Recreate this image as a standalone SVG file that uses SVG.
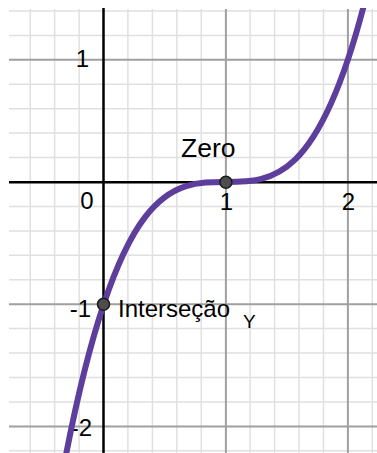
<svg xmlns="http://www.w3.org/2000/svg" width="377" height="453" viewBox="0 0 377 453">
<style>
.minor{stroke:#e0e0e0;stroke-width:1.5;fill:none}
.major{stroke:#a0a0a0;stroke-width:2;fill:none}
.axis{stroke:#000;stroke-width:2.5;fill:none}
.lbl{font-family:"Liberation Sans",Arial,sans-serif;font-size:24px;fill:#000}
.curve{stroke:#5d3e9c;stroke-width:6;fill:none;stroke-linecap:round}
.pt{fill:#4d4d4d;stroke:#1a1a1a;stroke-width:1.5}
</style>
<defs>
<clipPath id="plot"><rect x="9" y="8" width="368" height="445"/></clipPath>
</defs>
<rect x="0" y="0" width="377" height="453" fill="#fff"/>
<g id="grid">
<g class="minor">
<path d="M30.2,9V453M54.6,9V453M79.1,9V453M127.9,9V453M152.4,9V453M176.8,9V453M201.3,9V453M250.1,9V453M274.6,9V453M299,9V453M323.5,9V453M372.3,9V453"/>
<path d="M9,10.9H377M9,35.4H377M9,84.2H377M9,108.7H377M9,133.1H377M9,157.6H377M9,206.4H377M9,230.9H377M9,255.3H377M9,279.8H377M9,328.6H377M9,353.1H377M9,377.5H377M9,402H377M9,450.8H377"/>
</g>
<g class="major">
<path d="M225.9,9V453M347.9,9V453"/>
<path d="M9,59.8H377M9,304.2H377M9,426.4H377"/>
</g>
</g>
<g id="axes">
<path class="axis" d="M103.5,8V453M9,182.2H377"/>
<text class="lbl" x="89" y="66.5" text-anchor="end">1</text>
<text class="lbl" x="87" y="209" text-anchor="middle">0</text>
<text class="lbl" x="226.5" y="210" text-anchor="middle">1</text>
<text class="lbl" x="348.5" y="210" text-anchor="middle">2</text>
<text class="lbl" x="91" y="316.5" text-anchor="end">-1</text>
<text class="lbl" x="92" y="435.5" text-anchor="end">-2</text>
</g>
<g id="connectors">
<path class="curve" clip-path="url(#plot)" d="M64.4,463.06 C164.6,-60.73 264.8,391.63 365.01,0.96"/>
</g>
<g id="zero">
<circle class="pt" cx="225.9" cy="182.2" r="6"/>
<text class="lbl" x="181" y="157" style="font-size:26.5px">Zero</text>
</g>
<g id="intersecao">
<circle class="pt" cx="103.5" cy="304.2" r="6"/>
<text class="lbl" x="118" y="317">Interseção</text>
<text class="lbl" x="243" y="328" style="font-size:19px">Y</text>
</g>
</svg>
